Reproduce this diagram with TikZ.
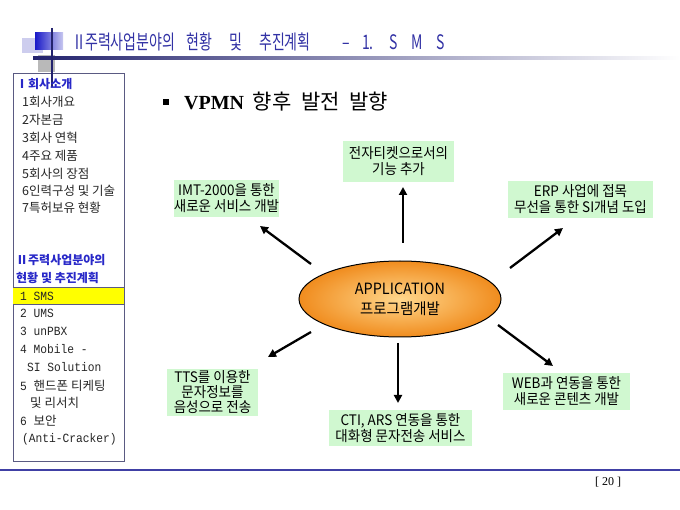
\documentclass[tikz,border=0pt]{standalone}
\usepackage{fontspec}
\setmainfont{Noto Sans CJK KR}
\newfontfamily\kr{Noto Sans CJK KR}
\newfontfamily\krt[FakeStretch=0.7]{Noto Sans CJK KR}
\newfontfamily\krb[FakeStretch=0.93]{Noto Sans CJK KR}
\newfontfamily\mono[FakeStretch=0.9]{Liberation Mono}
\newfontfamily\tms{Liberation Serif}
\usetikzlibrary{shapes.geometric,arrows.meta}
\definecolor{navy}{RGB}{35,35,110}
\definecolor{titleblue}{RGB}{50,50,165}
\definecolor{hdrblue}{RGB}{40,40,200}
\definecolor{boxgreen}{RGB}{208,248,208}
\definecolor{sideborder}{RGB}{90,90,130}
\definecolor{lav}{RGB}{205,205,238}
\definecolor{barblue}{RGB}{64,64,165}
\definecolor{hlyellow}{RGB}{255,255,0}
\tikzset{
  gbox/.style={fill=boxgreen, inner sep=0pt, align=center, font=\krb\fontsize{14.5}{16}\selectfont},
  arr/.style={line width=2.3pt, -{Triangle[length=8pt,width=8pt]}},
  sidehdr/.style={anchor=west, inner sep=0pt, text=hdrblue, font=\kr\bfseries\fontsize{12}{14}\selectfont},
  sideitem/.style={anchor=west, inner sep=0pt, text=black!85, font=\kr\fontsize{12.5}{14}\selectfont},
}
\begin{document}
\begin{tikzpicture}[x=1pt,y=-1pt]
\useasboundingbox (0,0) rectangle (680,510);
\fill[white] (0,0) rectangle (680,510);
% sidebar
\draw[sideborder, line width=0.8pt, fill=white] (13,73) rectangle (124,461);
\fill[hlyellow] (13,287) rectangle (124,304);
\draw[sideborder, line width=0.6pt] (13,287) -- (124,287) (13,304) -- (124,304);
% decoration
\fill[lav] (22,38) rectangle (43,53);
\fill[gray!55] (38,55) rectangle (55,72);
\shade[left color={rgb,255:red,25;green,25;blue,200}, right color={rgb,255:red,200;green,200;blue,240}] (35,33) rectangle (63,50);
\shade[left color=navy, right color=white] (33,56.5) rectangle (680,59.5);
\draw[navy, line width=2pt] (52,28) -- (52,87);
% title
\node[anchor=west, inner sep=0pt, text=titleblue, font=\krt\fontsize{20}{22}\selectfont] (title) at (72,42)
  {\makebox[13pt][l]{Ⅱ}\makebox[101pt][l]{주력사업분야의}\makebox[43pt][l]{현황}\makebox[30pt][l]{및}\makebox[83pt][l]{추진계획}\makebox[20pt][l]{–}\makebox[27pt][l]{1.}\makebox[22pt][l]{S}\makebox[25pt][l]{M}S};
% sidebar texts
\node[sidehdr] (h1) at (16,84) {Ⅰ회사소개};
\node[sideitem] (s1) at (22,102) {1회사개요};
\node[sideitem] (s2) at (22,120) {2자본금};
\node[sideitem] (s3) at (22,138) {3회사 연혁};
\node[sideitem] (s4) at (22,156) {4주요 제품};
\node[sideitem] (s5) at (22,174) {5회사의 장점};
\node[sideitem] (s6) at (22,191) {6인력구성 및 기술};
\node[sideitem] (s7) at (22,208) {7특허보유 현황};
\node[sidehdr] (h2) at (16,260) {Ⅱ주력사업분야의};
\node[sidehdr] (h2b) at (16,278) {현황 및 추진계획};
\node[sideitem] (t1) at (20,296) {{\mono 1 SMS}};
\node[sideitem] (t2) at (20,313) {{\mono 2 UMS}};
\node[sideitem] (t3) at (20,331) {{\mono 3 unPBX}};
\node[sideitem] (t4) at (20,349) {{\mono 4 Mobile -}};
\node[sideitem] (t4b) at (27,367) {{\mono SI Solution}};
\node[sideitem] (t5) at (20,386) {{\mono 5 }핸드폰 티케팅};
\node[sideitem] (t5b) at (30,403) {및 리서치};
\node[sideitem] (t6) at (20,421) {{\mono 6 }보안};
\node[sideitem] (t6b) at (22,439) {{\mono (Anti-Cracker)}};
% bottom line and page number
\draw[barblue, line width=2pt] (0,470) -- (680,470);
\node[inner sep=0pt, font=\tms\fontsize{12}{14}\selectfont] (pg) at (608,482) {[ 20 ]};
% bullet heading
\fill[black] (163,99) rectangle (169,105);
\node[anchor=west, inner sep=0pt, font=\kr\fontsize{21}{24}\selectfont] (head) at (184,102) {{\tms\bfseries\fontsize{20}{22}\selectfont VPMN}\hspace{4pt} 향후\hspace{5pt} 발전\hspace{5pt} 발향};
% center ellipse
\node[ellipse, draw=black, line width=1pt, minimum width=202pt, minimum height=76pt, inner sep=0pt,
      inner color={rgb,255:red,255;green,215;blue,140}, outer color={rgb,255:red,240;green,140;blue,30},
      align=center, font=\krb\fontsize{15.5}{20}\selectfont] (app) at (400,299) {APPLICATION\\프로그램개발};
% boxes
\node[gbox, minimum width=111pt, minimum height=41pt] (top) at (398.5,161.5) {전자티켓으로서의\\기능 추가};
\node[gbox, minimum width=101pt, minimum height=37pt] (imt) at (226.5,198.5) {IMT-2000을 통한\\새로운 서비스 개발};
\node[gbox, minimum width=145pt, minimum height=37pt] (erp) at (580.5,199.5) {ERP 사업에 접목\\무선을 통한 SI개념 도입};
\node[gbox, minimum width=91pt, minimum height=47pt, font=\krb\fontsize{14.5}{15}\selectfont] (tts) at (212.5,392.5) {TTS를 이용한\\문자정보를\\음성으로 전송};
\node[gbox, minimum width=143pt, minimum height=36pt] (cti) at (400.5,428) {CTI, ARS 연동을 통한\\대화형 문자전송 서비스};
\node[gbox, minimum width=127pt, minimum height=37pt] (web) at (566.5,391.5) {WEB과 연동을 통한\\새로운 콘텐츠 개발};
% arrows
\coordinate (aU1) at (403,243); \coordinate (aU2) at (403,187);
\coordinate (aUL1) at (311,264); \coordinate (aUL2) at (260,226);
\coordinate (aUR1) at (510,268); \coordinate (aUR2) at (563,228);
\coordinate (aLL1) at (311,332); \coordinate (aLL2) at (268,357);
\coordinate (aD1) at (398,343); \coordinate (aD2) at (398,403);
\coordinate (aLR1) at (498,325); \coordinate (aLR2) at (553,366);
\draw[arr] (aU1) -- (aU2);
\draw[arr] (aUL1) -- (aUL2);
\draw[arr] (aUR1) -- (aUR2);
\draw[arr] (aLL1) -- (aLL2);
\draw[arr] (aD1) -- (aD2);
\draw[arr] (aLR1) -- (aLR2);
\end{tikzpicture}
\end{document}
